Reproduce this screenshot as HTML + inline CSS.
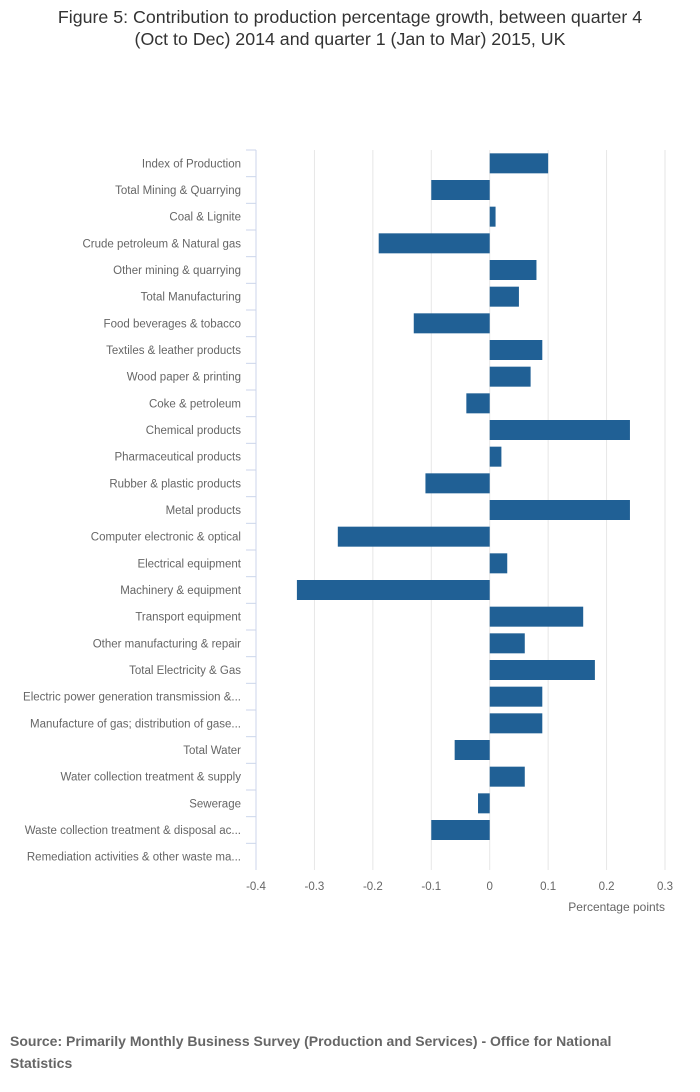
<!DOCTYPE html>
<html><head><meta charset="utf-8">
<style>
body{margin:0;background:#fff;font-family:"Liberation Sans",sans-serif;}
#wrap{position:relative;width:700px;height:1092px;overflow:hidden;}
#title{position:absolute;left:0;top:6px;width:700px;text-align:center;font-size:17.8px;color:#333;line-height:22px;}
#source{position:absolute;left:10px;top:1030px;width:630px;font-size:14px;font-weight:bold;color:#666;line-height:22px;}
svg text{font-family:"Liberation Sans",sans-serif;}
</style></head><body>
<div id="wrap">
<div id="title">Figure 5: Contribution to production percentage growth, between quarter 4<br>(Oct to Dec) 2014 and quarter 1 (Jan to Mar) 2015, UK</div>
<svg id="chart" width="700" height="1092" style="position:absolute;left:0;top:0"></svg>
<div id="source">Source: Primarily Monthly Business Survey (Production and Services) - Office for National Statistics</div>
</div>
<script>
const categories=["Index of Production","Total Mining & Quarrying","Coal & Lignite","Crude petroleum & Natural gas","Other mining & quarrying","Total Manufacturing","Food beverages & tobacco","Textiles & leather products","Wood paper & printing","Coke & petroleum","Chemical products","Pharmaceutical products","Rubber & plastic products","Metal products","Computer electronic & optical","Electrical equipment","Machinery & equipment","Transport equipment","Other manufacturing & repair","Total Electricity & Gas","Electric power generation transmission &...","Manufacture of gas; distribution of gase...","Total Water","Water collection treatment & supply","Sewerage","Waste collection treatment & disposal ac...","Remediation activities & other waste ma..."];
const values=[0.1,-0.1,0.01,-0.19,0.08,0.05,-0.13,0.09,0.07,-0.04,0.24,0.02,-0.11,0.24,-0.26,0.03,-0.33,0.16,0.06,0.18,0.09,0.09,-0.06,0.06,-0.02,-0.1,0];
const xTicks=[-0.4,-0.3,-0.2,-0.1,0,0.1,0.2,0.3];
const xTickLabels=["-0.4","-0.3","-0.2","-0.1","0","0.1","0.2","0.3"];
const svg=document.getElementById('chart');
const NS="http://www.w3.org/2000/svg";
const x0=256,x1=665,plotTop=150,plotBottom=870;
const xs=v=>x0+(v-(-0.4))/(0.3-(-0.4))*(x1-x0);
const band=(plotBottom-plotTop)/categories.length;
const yc=i=>plotTop+band*(i+0.5);
function mk(t,a){const e=document.createElementNS(NS,t);for(const k in a)e.setAttribute(k,a[k]);svg.appendChild(e);return e;}
xTicks.forEach((t,i)=>{
 const g=mk('line',{x1:xs(t),x2:xs(t),y1:plotTop,y2:plotBottom,stroke:'#e6e6e6','stroke-width':1});
 
 
 const l=mk('text',{x:xs(t),y:890,'text-anchor':'middle','font-size':11.5,fill:'#666'});
 l.textContent=xTickLabels[i];
 
 
});
const ax=mk('line',{x1:x0,x2:x0,y1:plotTop,y2:plotBottom,stroke:'#ccd6eb','stroke-width':1});


categories.forEach((c,i)=>{
 const tk=mk('line',{x1:x0-10,x2:x0,y1:plotTop+band*i,y2:plotTop+band*i,stroke:'#ccd6eb'});
 
 
 const l=mk('text',{x:241,y:yc(i)+4,'text-anchor':'end','font-size':11.5,fill:'#666'});
 l.textContent=c;
 
 
 const v=values[i];
 const a=xs(Math.min(0,v)),b=xs(Math.max(0,v));
 const r=mk('rect',{x:a,y:yc(i)-10,width:Math.max(0,b-a),height:20,fill:'#206095'});
 
 
});
const at=mk('text',{x:665,y:911,'text-anchor':'end','font-size':12,fill:'#666'});
at.textContent='Percentage points';


</script>
</body></html>
